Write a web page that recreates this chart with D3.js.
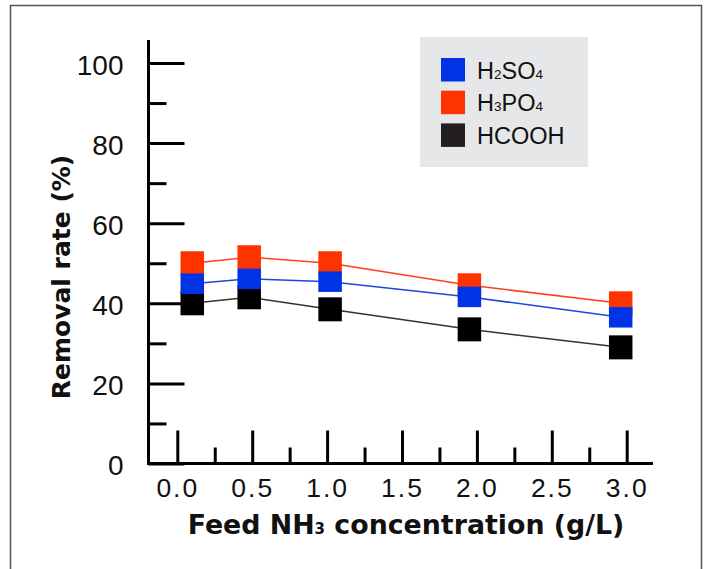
<!DOCTYPE html>
<html>
<head>
<meta charset="utf-8">
<script src="https://cdn.jsdelivr.net/npm/d3@7"></script>
<style>
  body { margin: 0; background: #fff; }
  .tick-label { font-family: "Liberation Sans", Arial, sans-serif; fill: #111; }
  .axis-title { font-family: "DejaVu Sans", sans-serif; font-weight: bold; fill: #111; }
</style>
</head>
<body>
<div id="chart"></div>
<script>
// Feed NH3 concentration (g/L), positions
var feedConc = [0.1, 0.48, 1.02, 1.95, 2.96];

// Removal rate (%) per acid
var h2so4 = [44.9, 46.1, 45.4, 41.6, 36.5];
var h3po4 = [50.0, 51.5, 50.0, 44.5, 40.0];
var hcooh = [40.0, 41.5, 38.5, 33.5, 29.0];

var seriesNames = ["H2SO4", "H3PO4", "HCOOH"];
var xTicks = [0, 0.5, 1.0, 1.5, 2.0, 2.5, 3.0];
var yTicks = [0, 20, 40, 60, 80, 100];

// Establish SVG dimensions
var svgWidth = 707;
var svgHeight = 569;

var svg = d3.select("#chart")
    .append("svg")
    .attr("width", svgWidth)
    .attr("height", svgHeight);

// outer frame
svg.append("rect")
    .attr("x", 10.5)
    .attr("y", 5.5)
    .attr("width", 691)
    .attr("height", 620)
    .attr("fill", "#fff")
    .attr("stroke", "#555")
    .attr("stroke-width", 1.5);

var axisX = 148.5;
var axisY = 463.5;

// Scales
var xScale = d3.scaleLinear().domain([0, 3]).range([177.3, 626.7]);
var yScale = d3.scaleLinear().domain([0, 100]).range([axisY, 63]);

// Y axis - major ticks with labels
var yMajor = svg.append("g")
    .attr("transform", `translate(${axisX},0)`)
    .call(d3.axisLeft(yScale)
        .tickValues(yTicks)
        .tickSizeInner(-36)
        .tickSizeOuter(0)
        .tickPadding(25)
        .tickFormat(d3.format("d")));
yMajor.select(".domain").remove();
yMajor.selectAll("line").attr("stroke", "#000").attr("stroke-width", 3);
yMajor.selectAll("text")
    .classed("tick-label", true)
    .attr("font-size", 28)
    .attr("font-family", null)
    .attr("dy", "0.4em");

// Y axis - minor ticks
var yMinor = svg.append("g")
    .attr("transform", `translate(${axisX},0)`)
    .call(d3.axisLeft(yScale)
        .tickValues(d3.range(10, 100, 20))
        .tickSizeInner(-18)
        .tickSizeOuter(0)
        .tickFormat(""));
yMinor.select(".domain").remove();
yMinor.selectAll("line").attr("stroke", "#000").attr("stroke-width", 3);

// X axis - major ticks with labels
var xMajor = svg.append("g")
    .attr("transform", `translate(0,${axisY})`)
    .call(d3.axisBottom(xScale)
        .tickValues(xTicks)
        .tickSizeInner(-33)
        .tickSizeOuter(0)
        .tickPadding(15)
        .tickFormat(d3.format(".1f")));
xMajor.select(".domain").remove();
xMajor.selectAll("line").attr("stroke", "#000").attr("stroke-width", 3);
xMajor.selectAll("text")
    .classed("tick-label", true)
    .attr("font-size", 26.5)
    .attr("font-family", null)
    .attr("letter-spacing", 2);

// X axis - minor ticks
var xMinor = svg.append("g")
    .attr("transform", `translate(0,${axisY})`)
    .call(d3.axisBottom(xScale)
        .tickValues(d3.range(0.25, 3, 0.5))
        .tickSizeInner(-16)
        .tickSizeOuter(0)
        .tickFormat(""));
xMinor.select(".domain").remove();
xMinor.selectAll("line").attr("stroke", "#000").attr("stroke-width", 3);

// axis lines
svg.append("line")
    .attr("x1", axisX).attr("x2", axisX)
    .attr("y1", 40).attr("y2", axisY + 1.5)
    .attr("stroke", "#000").attr("stroke-width", 3);
svg.append("line")
    .attr("x1", axisX - 1.5).attr("x2", 653)
    .attr("y1", axisY).attr("y2", axisY)
    .attr("stroke", "#000").attr("stroke-width", 3);

// Series lines
var lineColors = { H2SO4: "#1f45e0", H3PO4: "#ff4020", HCOOH: "#333" };
var fillColors = { H2SO4: "#0033e6", H3PO4: "#ff3300", HCOOH: "#000" };
var seriesData = { H2SO4: h2so4, H3PO4: h3po4, HCOOH: hcooh };

var line = d3.line()
    .x((d, i) => xScale(feedConc[i]))
    .y(d => yScale(d));

seriesNames.forEach(function(name) {
    svg.append("path")
        .datum(seriesData[name])
        .attr("d", line)
        .attr("fill", "none")
        .attr("stroke", lineColors[name])
        .attr("stroke-width", 1.5);
});

// Markers: red and black first, blue on top
var markerW = 23.5;
var markerH = { H2SO4: 20.5, H3PO4: 24, HCOOH: 24 };
["H3PO4", "HCOOH", "H2SO4"].forEach(function(name) {
    svg.append("g").selectAll("rect")
        .data(seriesData[name])
        .enter()
        .append("rect")
        .attr("x", (d, i) => xScale(feedConc[i]) - markerW / 2)
        .attr("y", d => yScale(d) - markerH[name] / 2)
        .attr("width", markerW)
        .attr("height", markerH[name])
        .attr("fill", fillColors[name]);
});

// Axis titles
svg.append("text")
    .attr("class", "axis-title")
    .attr("transform", "translate(70, 277) rotate(-90)")
    .attr("text-anchor", "middle")
    .attr("font-size", 25)
    .text("Removal rate (%)");

var xTitle = svg.append("text")
    .attr("class", "axis-title")
    .attr("x", 406)
    .attr("y", 534)
    .attr("text-anchor", "middle")
    .attr("font-size", 26.8);
xTitle.append("tspan").text("Feed NH");
xTitle.append("tspan").attr("font-size", 15).text("3");
xTitle.append("tspan").text(" concentration (g/L)");

// Legend
var legend = svg.append("g");
legend.append("rect")
    .attr("x", 420)
    .attr("y", 37)
    .attr("width", 168)
    .attr("height", 130)
    .attr("fill", "#e6e7e8");

var legendLabels = [["H", "2", "SO", "4"], ["H", "3", "PO", "4"], ["HCOOH"]];
var legendFills = ["#0033e6", "#ff3300", "#231f20"];
var legendRows = legend.selectAll("g.row")
    .data(legendLabels)
    .enter()
    .append("g")
    .attr("class", "row")
    .attr("transform", (d, i) => `translate(441, ${58 + i * 32.7})`);

legendRows.append("rect")
    .attr("width", 24)
    .attr("height", 23.5)
    .attr("fill", (d, i) => legendFills[i]);

var legendText = legendRows.append("text")
    .attr("class", "tick-label")
    .attr("x", 36)
    .attr("y", 20.5)
    .attr("font-size", 23.5);
legendText.each(function(parts) {
    var t = d3.select(this);
    parts.forEach(function(p, j) {
        t.append("tspan")
            .attr("font-size", j % 2 === 1 ? 13.5 : null)
            .text(p);
    });
});
</script>
</body>
</html>
